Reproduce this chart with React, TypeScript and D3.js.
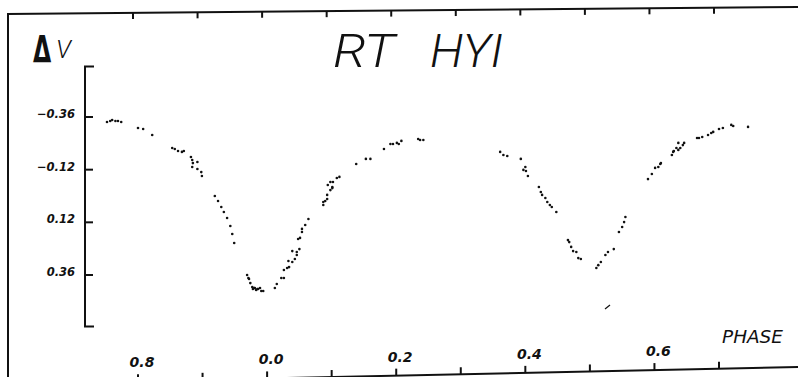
import { useEffect, useRef } from 'react'
import * as d3 from 'd3'

// phase (0.8 shown as -0.2 so the curve stays continuous) and delta V
const PHASE = [
  -0.248, -0.243, -0.240, -0.235, -0.231, -0.226, -0.200, -0.192, -0.178,
  -0.147, -0.143, -0.138, -0.132, -0.129, -0.118, -0.116, -0.115, -0.108, -0.116, -0.108, -0.102, -0.101,
  -0.081, -0.076, -0.071, -0.067, -0.062, -0.057, -0.054, -0.051,
  -0.031, -0.029, -0.028, -0.026, -0.023, -0.022, -0.020, -0.019, -0.015, -0.014, -0.011, -0.009, -0.006, -0.017,
  0.012, 0.015, 0.022, 0.026, 0.026, 0.031, 0.034, 0.033, 0.039, 0.039, 0.043, 0.046, 0.046, 0.050,
  0.048, 0.051, 0.054, 0.054, 0.059, 0.064,
  0.087, 0.087, 0.090, 0.093, 0.093, 0.098, 0.101, 0.094, 0.098, 0.102, 0.101, 0.108, 0.112,
  0.138, 0.153, 0.160, 0.181, 0.191, 0.195, 0.201, 0.204, 0.208, 0.234, 0.237, 0.242,
  0.361, 0.366, 0.372, 0.393, 0.397, 0.400, 0.401, 0.404,
  0.421, 0.424, 0.426, 0.431, 0.434, 0.438, 0.441, 0.448,
  0.466, 0.468, 0.471, 0.474, 0.479, 0.482, 0.486,
  0.510, 0.513, 0.517, 0.524, 0.528, 0.537, 0.545, 0.550, 0.553, 0.555,
  0.590, 0.596, 0.601, 0.606, 0.609, 0.610,
  0.627, 0.629, 0.630, 0.634, 0.637, 0.640, 0.637, 0.646, 0.644,
  0.666, 0.669, 0.674, 0.683, 0.688, 0.691, 0.700, 0.706, 0.719, 0.722, 0.745,
]
const DELTA_V = [
  -0.337, -0.342, -0.346, -0.342, -0.342, -0.337, -0.310, -0.305, -0.278,
  -0.219, -0.214, -0.205, -0.201, -0.205, -0.178, -0.164, -0.150, -0.155, -0.132, -0.123, -0.109, -0.091,
  0.000, 0.023, 0.050, 0.073, 0.100, 0.137, 0.173, 0.214,
  0.360, 0.374, 0.378, 0.397, 0.415, 0.424, 0.419, 0.419, 0.424, 0.424, 0.419, 0.433, 0.433, 0.428,
  0.419, 0.401, 0.374, 0.374, 0.337, 0.328, 0.324, 0.296, 0.301, 0.251, 0.287, 0.269, 0.255, 0.242,
  0.196, 0.191, 0.164, 0.150, 0.132, 0.105,
  0.041, 0.027, 0.023, 0.014, -0.005, -0.027, -0.036, -0.050, -0.064, -0.064, -0.041, -0.082, -0.087,
  -0.146, -0.169, -0.169, -0.214, -0.237, -0.237, -0.242, -0.237, -0.251, -0.260, -0.255, -0.255,
  -0.201, -0.187, -0.182, -0.169, -0.119, -0.132, -0.114, -0.091,
  -0.041, -0.018, -0.005, 0.009, 0.027, 0.041, 0.050, 0.073,
  0.201, 0.210, 0.232, 0.251, 0.255, 0.283, 0.287,
  0.328, 0.315, 0.301, 0.269, 0.255, 0.242, 0.164, 0.141, 0.119, 0.096,
  -0.077, -0.100, -0.128, -0.132, -0.146, -0.150,
  -0.187, -0.201, -0.205, -0.219, -0.210, -0.219, -0.242, -0.242, -0.232,
  -0.264, -0.264, -0.269, -0.278, -0.287, -0.292, -0.305, -0.310, -0.324, -0.319, -0.315,
]

const X_TICKS = [-0.2, -0.1, 0.0, 0.1, 0.2, 0.3, 0.4, 0.5, 0.6, 0.7]
const X_LABELS = ['0.8', '', '0.0', '', '0.2', '', '0.4', '', '0.6', '']
const Y_TICKS = [-0.36, -0.12, 0.12, 0.36]
const Y_LABELS = ['−0.36', '−0.12', '0.12', '0.36']

const W = 798
const H = 377

export default function App() {
  const svgRef = useRef<SVGSVGElement>(null)

  useEffect(() => {
    if (!svgRef.current) return
    const svg = d3.select(svgRef.current)
    svg.selectAll('*').remove()

    const x = d3.scaleLinear().domain([-0.2, 0.7]).range([138, 719])
    const y = d3.scaleLinear().domain([-0.36, 0.36]).range([117, 275])

    // scan is a little skewed: frame lines are not quite level
    const topY = (px: number) => 14 - (px - 8) * (7 / 790)
    const botY = (px: number) => 384 - (px - 8) * (17 / 790)

    const ink = '#111'
    const thin = "Roboto, 'Open Sans', Lato, sans-serif"

    svg.append('rect').attr('width', W).attr('height', H).attr('fill', '#fff')

    // frame
    svg.append('line').attr('x1', 8).attr('x2', 8).attr('y1', topY(8)).attr('y2', H)
      .attr('stroke', ink).attr('stroke-width', 2)
    svg.append('line').attr('x1', 7).attr('x2', W).attr('y1', topY(7)).attr('y2', topY(W))
      .attr('stroke', ink).attr('stroke-width', 2)
    svg.append('line').attr('x1', 8).attr('x2', W).attr('y1', botY(8)).attr('y2', botY(W))
      .attr('stroke', ink).attr('stroke-width', 2)

    // top ticks (offset a few px, as in the scan)
    svg.append('g').selectAll('line').data(X_TICKS).join('line')
      .attr('x1', d => x(d) - 5).attr('x2', d => x(d) - 5)
      .attr('y1', d => topY(x(d) - 5)).attr('y2', d => topY(x(d) - 5) + 6)
      .attr('stroke', ink).attr('stroke-width', 2)

    // bottom ticks
    svg.append('g').selectAll('line').data(X_TICKS).join('line')
      .attr('x1', d => x(d)).attr('x2', d => x(d))
      .attr('y1', d => botY(x(d))).attr('y2', d => botY(x(d)) - 7)
      .attr('stroke', ink).attr('stroke-width', 2)

    svg.append('g').selectAll('text').data(X_TICKS).join('text')
      .attr('x', d => x(d) + 4)
      .attr('y', d => botY(x(d)) - 14)
      .attr('text-anchor', 'middle')
      .attr('font-family', 'DejaVu Sans')
      .attr('font-style', 'italic')
      .attr('font-weight', 700)
      .attr('font-size', 14)
      .attr('fill', ink)
      .text((_, i) => X_LABELS[i])

    // y axis bracket
    const yTop = y(-0.59)
    const yBot = y(0.595)
    svg.append('path')
      .attr('d', `M94,${yTop}H85V${yBot}H94`)
      .attr('fill', 'none').attr('stroke', ink).attr('stroke-width', 2)
    svg.append('g').selectAll('line').data(Y_TICKS).join('line')
      .attr('x1', 85).attr('x2', 93)
      .attr('y1', d => y(d)).attr('y2', d => y(d))
      .attr('stroke', ink).attr('stroke-width', 2)
    svg.append('g').selectAll('text').data(Y_TICKS).join('text')
      .attr('x', 75)
      .attr('y', d => y(d) + 1)
      .attr('text-anchor', 'end')
      .attr('font-family', 'DejaVu Sans')
      .attr('font-style', 'italic')
      .attr('font-weight', 700)
      .attr('font-size', 11.5)
      .attr('fill', ink)
      .text((_, i) => Y_LABELS[i])

    // delta V label: a tall, narrow bold delta and a thin italic V
    svg.append('text')
      .attr('transform', 'translate(33,62) scale(0.62,1)')
      .attr('font-family', 'DejaVu Sans').attr('font-weight', 700).attr('font-size', 38)
      .attr('fill', ink).text('Δ')
    svg.append('text').attr('x', 56).attr('y', 58)
      .attr('font-family', thin).attr('font-style', 'italic').attr('font-weight', 300)
      .attr('font-size', 25).attr('fill', ink)
      .text('V')

    // title
    const title = svg.append('g')
      .attr('font-family', thin).attr('font-style', 'italic').attr('font-weight', 300)
      .attr('font-size', 47).attr('fill', ink)
    title.append('text').attr('x', 333).attr('y', 67)
      .attr('textLength', 62).attr('lengthAdjust', 'spacingAndGlyphs').text('RT')
    title.append('text').attr('x', 430).attr('y', 67)
      .attr('textLength', 73).attr('lengthAdjust', 'spacingAndGlyphs').text('HYI')

    svg.append('text').attr('x', 722).attr('y', 343)
      .attr('font-family', 'DejaVu Sans').attr('font-style', 'italic')
      .attr('font-size', 18).attr('fill', ink)
      .attr('textLength', 61).attr('lengthAdjust', 'spacingAndGlyphs')
      .text('PHASE')

    // stray pen mark in the scan
    svg.append('line').attr('x1', 605).attr('y1', 309).attr('x2', 610).attr('y2', 305)
      .attr('stroke', ink).attr('stroke-width', 1.2)

    // observations
    svg.append('g').selectAll('circle').data(PHASE).join('circle')
      .attr('cx', d => x(d))
      .attr('cy', (_, i) => y(DELTA_V[i]))
      .attr('r', 1.3)
      .attr('fill', ink)
  }, [])

  return (
    <svg
      ref={svgRef}
      width={W}
      height={H}
      style={{ position: 'absolute', left: 0, top: 0 }}
    />
  )
}
